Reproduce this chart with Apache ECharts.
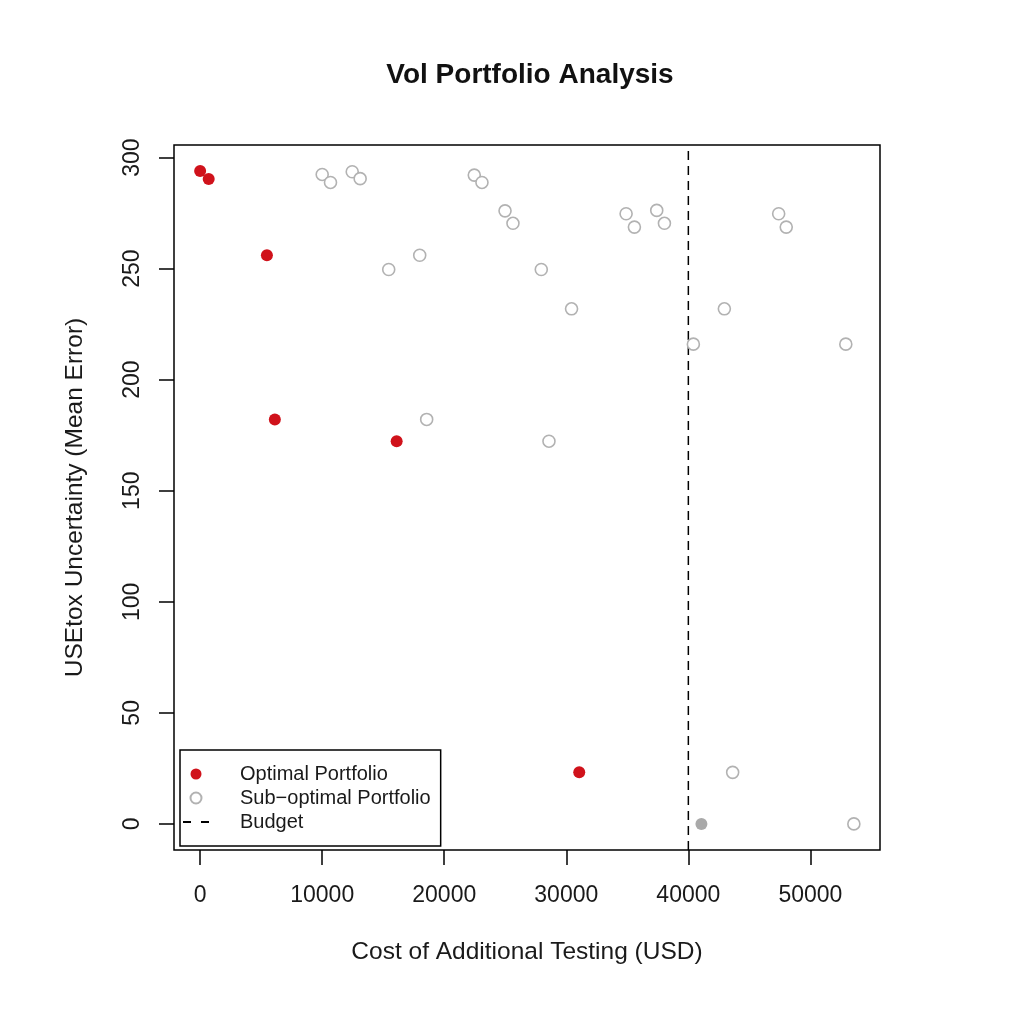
<!DOCTYPE html>
<html>
<head>
<meta charset="utf-8">
<script src="https://cdn.jsdelivr.net/npm/echarts@6/dist/echarts.min.js"></script>
<style>
html,body{margin:0;padding:0;background:#fff;}
#chart{width:1022px;height:1024px;}
</style>
</head>
<body>
<div id="chart"></div>
<script>
// ---- data ----
const optimalX = [0, 700, 5470, 6120, 16100, 31060];
const optimalY = [293.9, 290.3, 256.0, 182.1, 172.3, 23.2];

const subX = [10000, 10680, 12460, 13110, 22460, 23090, 24980, 25630, 17990, 15450, 18560,
              27950, 30430, 28580, 34900, 35580, 37410, 38040, 40410, 42950, 47400, 48020,
              52900, 43630, 53560];
const subY = [292.4, 288.8, 293.6, 290.5, 292.1, 288.8, 276.0, 270.4, 256.0, 249.6, 182.1,
              249.6, 231.9, 172.3, 274.7, 268.7, 276.2, 270.4, 216.0, 231.9, 274.7, 268.7,
              216.0, 23.2, 0];

const currentX = [41070];
const currentY = [0];

const budget = 40000;

const xTicks = [0, 10000, 20000, 30000, 40000, 50000];
const yTicks = [0, 50, 100, 150, 200, 250, 300];

const titleText = 'Vol Portfolio Analysis';
const xName = 'Cost of Additional Testing (USD)';
const yName = 'USEtox Uncertainty (Mean Error)';
const legendNames = ['Optimal Portfolio', 'Sub\u2212optimal Portfolio', 'Budget'];

// ---- R-style 4% axis extension ----
const allX = optimalX.concat(subX, currentX);
const allY = optimalY.concat(subY, currentY);
function ext(a) {
  const lo = Math.min(...a), hi = Math.max(...a), d = (hi - lo) * 0.04;
  return [lo - d, hi + d];
}
const [xMin, xMax] = ext(allX);
const [yMin, yMax] = ext(allY);

const zip = (xs, ys) => xs.map((x, i) => [x, ys[i]]);

const FONT = 'Liberation Sans, Arial, Helvetica, sans-serif';
const RED = '#d0121b';
const GREY = '#b2b2b2';

const chart = echarts.init(document.getElementById('chart'), null, {renderer: 'canvas'});
chart.setOption({
  animation: false,
  backgroundColor: '#fff',
  textStyle: {fontFamily: FONT},
  title: {
    text: titleText,
    left: 525,
    top: 56,
    textAlign: 'center',
    textStyle: {fontFamily: FONT, fontSize: 28, fontWeight: 'bold', color: '#111'}
  },
  grid: {
    left: 174, top: 145, width: 706, height: 705,
    show: true, borderColor: '#000', borderWidth: 1.5, backgroundColor: 'transparent'
  },
  xAxis: {
    type: 'value', min: xMin, max: xMax,
    name: xName, nameLocation: 'middle', nameGap: 90,
    nameTextStyle: {fontFamily: FONT, fontSize: 24.5, color: '#1a1a1a'},
    axisLine: {show: false, onZero: false},
    splitLine: {show: false},
    axisTick: {show: true, length: 15, customValues: xTicks, lineStyle: {color: '#000', width: 1.5}},
    axisLabel: {show: true, customValues: xTicks, fontSize: 23, color: '#1a1a1a', margin: 34, fontFamily: FONT,
                formatter: v => String(v)}
  },
  yAxis: {
    type: 'value', min: yMin, max: yMax,
    name: yName, nameLocation: 'middle', nameGap: 86,
    nameTextStyle: {fontFamily: FONT, fontSize: 24.5, color: '#1a1a1a'},
    axisLine: {show: false, onZero: false},
    splitLine: {show: false},
    axisTick: {show: true, length: 15, customValues: yTicks, lineStyle: {color: '#000', width: 1.5}},
    axisLabel: {show: true, customValues: yTicks, fontSize: 23, color: '#1a1a1a', margin: 30, rotate: 90, fontFamily: FONT,
                formatter: v => String(v)}
  },
  legend: {
    show: true,
    orient: 'vertical',
    left: 180, top: 750,
    data: [
      {name: legendNames[0]},
      {name: legendNames[1]},
      {name: legendNames[2], icon: 'path://M0,0 h8 v2 h-8 Z M18,0 h8 v2 h-8 Z', itemStyle: {color: '#000', borderWidth: 0}}
    ],
    backgroundColor: '#fff',
    borderColor: '#000', borderWidth: 1.5, borderRadius: 0,
    padding: [12, 10, 12, 3],
    itemWidth: 26, itemHeight: 11, itemGap: 0,
    selectedMode: false,
    textStyle: {fontFamily: FONT, fontSize: 20, color: '#1a1a1a', lineHeight: 24, padding: [0, 0, 0, 26]}
  },
  series: [
    {
      name: legendNames[1], type: 'scatter', data: zip(subX, subY), symbol: 'circle', symbolSize: 12,
      itemStyle: {color: '#fff', borderColor: GREY, borderWidth: 1.6, opacity: 1},
      z: 2
    },
    {
      name: 'Current', type: 'scatter', data: zip(currentX, currentY), symbol: 'circle', symbolSize: 12,
      itemStyle: {color: '#a9a9a9', opacity: 1},
      z: 2
    },
    {
      name: legendNames[0], type: 'scatter', data: zip(optimalX, optimalY), symbol: 'circle', symbolSize: 12,
      itemStyle: {color: RED, opacity: 1},
      z: 3
    },
    {
      name: legendNames[2], type: 'line', data: [[budget, yMin], [budget, yMax]], symbol: 'none',
      itemStyle: {color: '#000'},
      lineStyle: {color: '#000', width: 1.5, type: [9, 6]},
      z: 1
    }
  ]
});
</script>
</body>
</html>
